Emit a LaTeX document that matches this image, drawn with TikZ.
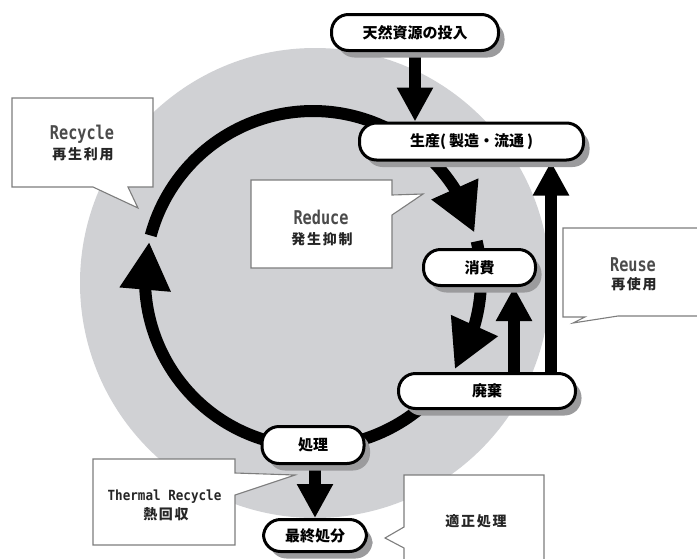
\documentclass[tikz,border=0pt]{standalone}
\usepackage{fontspec}
\usepackage{graphicx}
\newfontfamily\cjk{Noto Sans CJK JP}
\newfontfamily\cjksp{Noto Sans CJK JP}[LetterSpace=12]
\newfontfamily\monoc{DejaVu Sans Mono}[FakeStretch=0.8]
\newfontfamily\monot{DejaVu Sans Mono}[FakeStretch=0.9]
\usetikzlibrary{arrows.meta,bending,shadows}
\definecolor{disc}{RGB}{208,209,212}
\definecolor{shade}{RGB}{155,155,157}
\definecolor{callline}{RGB}{125,125,125}
\definecolor{latgray}{RGB}{75,75,75}
\pgfdeclarelayer{back}
\pgfdeclarelayer{arr}
\pgfsetlayers{back,arr,main}
\begin{document}
\begin{tikzpicture}[x=1pt,y=-1pt,
  proc/.style={draw=black, line width=3pt, fill=white, rounded corners=17pt,
    minimum height=36pt, inner sep=0pt,
    font=\cjk\bfseries\fontsize{15}{15}\selectfont,
    drop shadow={shadow xshift=6pt, shadow yshift=-7pt, fill=shade, opacity=1}},
  call/.style={draw=callline, line width=1.1pt, fill=white},
  latbig/.style={font=\monoc\bfseries\fontsize{19}{19}\selectfont, text=latgray, inner sep=0pt},
  latsmall/.style={font=\monot\bfseries\fontsize{14}{14}\selectfont, text=black!85, inner sep=0pt},
  cjkcall/.style={font=\cjksp\bfseries\fontsize{14}{14}\selectfont, text=black!85, inner sep=0pt},
  ring/.style={line width=12pt, draw=black},
  ringarrow/.style={ring, -{Triangle[width=48pt,length=48pt]}},
  sarrow/.style={line width=12pt, draw=black, -{Triangle[width=34pt,length=34pt]}}
]
\useasboundingbox (0,0) rectangle (697,558);

% process nodes
\node[proc, minimum width=167pt] (nat) at (415,32.5) {天然資源の投入};
\node[proc, minimum width=224pt, minimum height=37pt] (prod) at (471.5,141.5) {生産(\hspace{3pt}製造・流通\hspace{3pt})};
\node[proc, minimum width=112pt] (cons) at (479.5,267.5) {消費};
\node[proc, minimum width=177pt, minimum height=35pt] (waste) at (487,391) {廃棄};
\node[proc, minimum width=102pt, minimum height=37pt] (treat) at (313,445) {処理};
\node[proc, minimum width=103pt, minimum height=32pt] (final) at (315,535.5) {最終処分};

% callouts
\path[call] (12,98) -- (153,98) -- (153,187) -- (128,187) -- (138,208) -- (93,187) -- (12,187) -- cycle;
\node[latbig] (tRecycle) at (82,134.5) {Recycle};
\node[cjkcall] (tRecycleJ) at (83,154) {再生利用};

\path[call] (251,180) -- (392,180) -- (392,195) -- (423,194) -- (392,215) -- (392,268) -- (251,268) -- cycle;
\node[latbig] (tReduce) at (321,217) {Reduce};
\node[cjkcall] (tReduceJ) at (322,239) {発生抑制};

\path[call] (563,228) -- (700,228) -- (700,316) -- (618,316) -- (573,323) -- (585,317) -- (563,317) -- cycle;
\node[latbig] (tReuse) at (633,265) {Reuse};
\node[cjkcall] (tReuseJ) at (634,284) {再使用};

\path[call] (93,459) -- (235,459) -- (235,473) -- (295,475) -- (235,495) -- (235,545) -- (93,545) -- cycle;
\node[latsmall] (tThermal) at (164.5,497) {Thermal Recycle};
\node[cjkcall] (tThermalJ) at (166,514) {熱回収};

\path[call] (404,475) -- (544,475) -- (544,562) -- (404,562) -- (404,548) -- (385,538) -- (404,527) -- cycle;
\node[cjkcall] (tProper) at (476,521) {適正処理};

% background disc
\begin{pgfonlayer}{back}
  \fill[disc] (315,283) circle[radius=235];
\end{pgfonlayer}

% arrows
\begin{pgfonlayer}{arr}
  \coordinate (rc) at (313,279);
  \draw[ring] (rc) ++(-165:168) arc[start angle=-165, end angle=-60, radius=168];
  \draw[ringarrow] (rc) ++(-48:168) arc[start angle=-48, end angle=-16, radius=168];
  \draw[ring] (rc) ++(-13:168) arc[start angle=-13, end angle=-3, radius=168];
  \draw[ringarrow] (rc) ++(0:168) arc[start angle=0, end angle=32.5, radius=168];
  \draw[ring] (rc) ++(49:168) arc[start angle=49, end angle=76, radius=168];
  \draw[ringarrow] (rc) ++(106:168) arc[start angle=106, end angle=192.8, radius=168];

  \draw[sarrow] (nat.south) -- (nat.south |- prod.north);
  \coordinate (ru1) at (514,0);
  \coordinate (ru2) at (551,0);
  \draw[sarrow] (ru1 |- waste.north) -- (ru1 |- cons.south);
  \draw[sarrow] (ru2 |- waste.north) -- (ru2 |- prod.south);
  \draw[sarrow] (final.north |- treat.south) -- (final.north);
\end{pgfonlayer}
\end{tikzpicture}
\end{document}
